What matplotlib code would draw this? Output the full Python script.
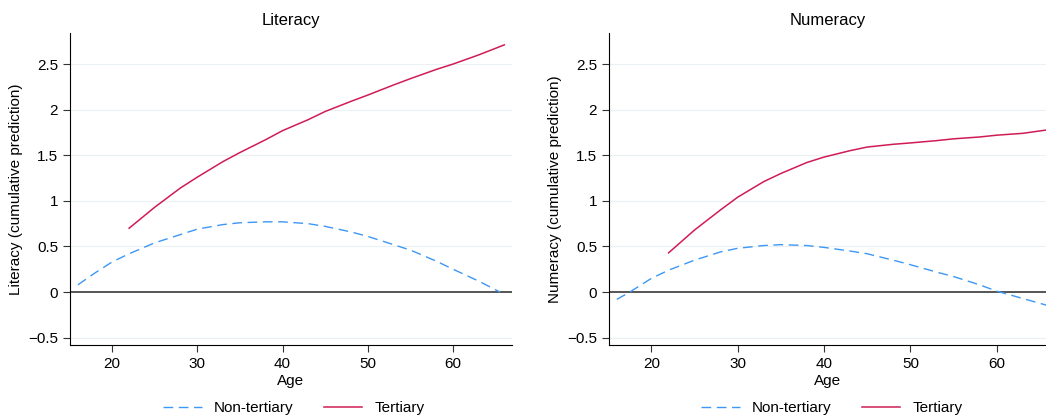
import numpy as np
import matplotlib.pyplot as plt

plt.rcParams['font.family'] = ['Liberation Sans', 'DejaVu Sans']

# values
lit_nt_age = [16, 18, 20, 22, 25, 28, 30, 33, 35, 38, 40, 43, 45, 48, 50, 53, 55, 58, 60, 63, 65.5]
lit_nt_val = [0.08, 0.21, 0.33, 0.42, 0.54, 0.63, 0.69, 0.74, 0.76, 0.77, 0.77, 0.75, 0.72, 0.66, 0.61, 0.52, 0.46, 0.34, 0.25, 0.12, 0.0]
lit_t_age = [22, 25, 28, 30, 33, 35, 38, 40, 43, 45, 48, 50, 53, 55, 58, 60, 63, 66]
lit_t_val = [0.70, 0.93, 1.14, 1.26, 1.43, 1.53, 1.67, 1.77, 1.89, 1.98, 2.09, 2.16, 2.27, 2.34, 2.44, 2.50, 2.60, 2.71]

num_nt_age = [16, 17.5, 20, 22, 25, 28, 30, 33, 35, 38, 40, 43, 45, 48, 50, 53, 55, 58, 60, 63, 66]
num_nt_val = [-0.08, 0.0, 0.15, 0.24, 0.35, 0.44, 0.48, 0.51, 0.52, 0.51, 0.49, 0.45, 0.42, 0.35, 0.30, 0.22, 0.17, 0.08, 0.01, -0.07, -0.15]
num_t_age = [22, 25, 28, 30, 33, 35, 38, 40, 43, 45, 48, 50, 53, 55, 58, 60, 63, 66]
num_t_val = [0.43, 0.68, 0.90, 1.04, 1.21, 1.30, 1.42, 1.48, 1.55, 1.59, 1.62, 1.635, 1.66, 1.68, 1.70, 1.72, 1.74, 1.78]

yticks = [-0.5, 0, 0.5, 1, 1.5, 2, 2.5]
ytick_labels = ['\u22120.5', '0', '0.5', '1', '1.5', '2', '2.5']
xticks = [20, 30, 40, 50, 60]

panels = [
    ('Literacy', 'Literacy (cumulative prediction)', lit_nt_age, lit_nt_val, lit_t_age, lit_t_val),
    ('Numeracy', 'Numeracy (cumulative prediction)', num_nt_age, num_nt_val, num_t_age, num_t_val),
]

blue = '#3d97f5'
red = '#d01c55'

fig = plt.figure(figsize=(10.46, 4.17), dpi=100)
ax1 = fig.add_axes([70/1046, 1-345/417, 442/1046, 312/417])
ax2 = fig.add_axes([609/1046, 1-345/417, 437/1046, 312/417])
xlims = [(15.07, 66.9), (15.1, 65.7)]
leg_x = [294/1046, 832/1046]

for ax, (title, ylab, nx, ny, tx, ty), xl, lx in zip([ax1, ax2], panels, xlims, leg_x):
    for yv in yticks:
        ax.axhline(yv, color='#eaf0f3', lw=0.8, zorder=0)
    ax.axhline(0, color='#555555', lw=1.4, zorder=1)
    l1, = ax.plot(nx, ny, color=blue, lw=1.0, dashes=(7, 4), label='Non-tertiary', zorder=2)
    l2, = ax.plot(tx, ty, color=red, lw=1.1, label='Tertiary', zorder=2)
    ax.set_xlim(*xl)
    ax.set_ylim(-0.58, 2.84)
    ax.set_xticks(xticks)
    ax.set_yticks(yticks)
    ax.set_yticklabels(ytick_labels)
    ax.tick_params(labelsize=11, length=5, width=0.8, color='#333333')
    ax.spines['top'].set_visible(False)
    ax.spines['right'].set_visible(False)
    ax.set_title(title, fontsize=12, pad=6)
    ax.set_xlabel('Age', fontsize=11, labelpad=2)
    ax.set_ylabel(ylab, fontsize=11, labelpad=4)
    ax.legend(handles=[l1, l2], loc='center', bbox_to_anchor=(lx, 9/417),
              bbox_transform=fig.transFigure, ncol=2, frameon=False,
              fontsize=11, handlelength=2.5, columnspacing=2.0, handletextpad=0.8)

fig.savefig('out.png', dpi=100)
